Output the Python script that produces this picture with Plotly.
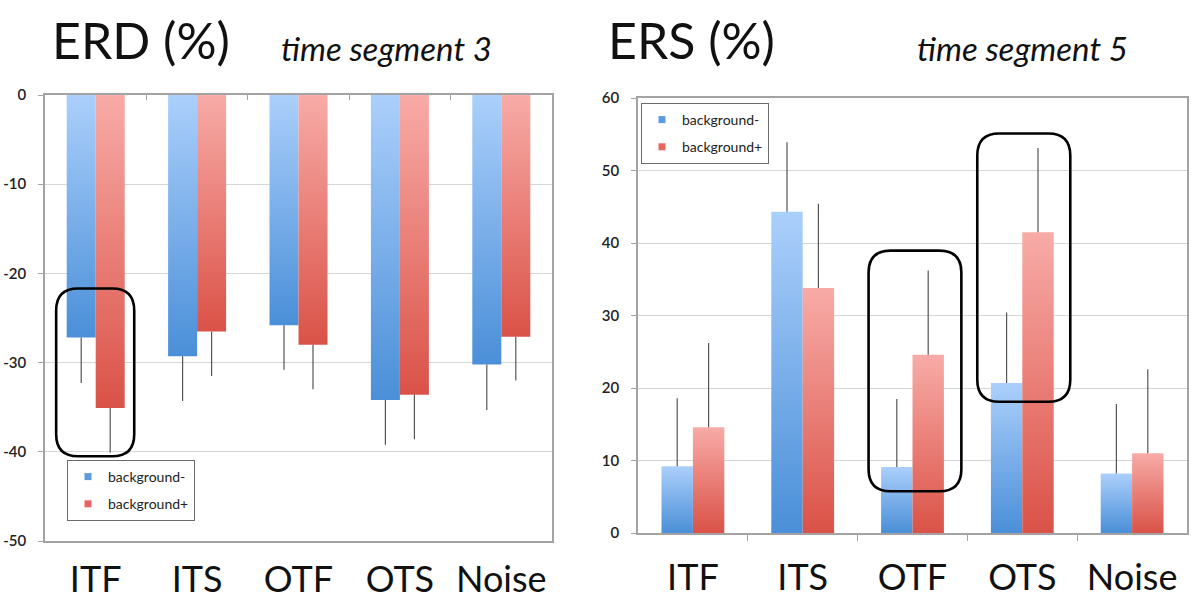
import plotly.graph_objects as go

# ---------------- data ----------------
categories = ["ITF", "ITS", "OTF", "OTS", "Noise"]
series_names = ["background-", "background+"]

erd_bg_minus = [-27.2, -29.3, -25.8, -34.2, -30.2]
erd_bg_plus = [-35.1, -26.5, -28.0, -33.6, -27.1]
erd_err_bg_minus = [5.1, 5.0, 5.0, 5.0, 5.1]
erd_err_bg_plus = [5.0, 5.0, 5.0, 5.0, 4.9]

ers_bg_minus = [9.2, 44.3, 9.1, 20.7, 8.2]
ers_bg_plus = [14.6, 33.8, 24.6, 41.5, 11.0]
ers_err_bg_minus = [9.4, 9.6, 9.4, 9.7, 9.6]
ers_err_bg_plus = [11.6, 11.6, 11.6, 11.6, 11.6]

erd_ticks = [0, -10, -20, -30, -40, -50]
erd_tick_labels = ["0", "-10", "-20", "-30", "-40", "-50"]
ers_ticks = [0, 10, 20, 30, 40, 50, 60]
ers_tick_labels = ["0", "10", "20", "30", "40", "50", "60"]

# ---------------- style ----------------
W, H = 1200, 602
BAR_W = 0.286
BLUE_DARK, BLUE_LIGHT = "#4a8fd8", "#abcffb"
RED_DARK, RED_LIGHT = "#da5247", "#f8aba7"
ERR_COLOR = "#555555"
FONT = "Lato, 'Open Sans', sans-serif"
AX_COLOR = "#a3a3a3"

left_dom_x = [45 / W, 552 / W]
left_dom_y = [1 - 541 / H, 1 - 95 / H]
right_dom_x = [638 / W, 1187 / W]
right_dom_y = [1 - 533 / H, 1 - 98 / H]

fig = go.Figure()


def add_bars(values, errors, offset, dark, light, xa, ya, negative):
    for i, v in enumerate(values):
        x0 = i + offset - BAR_W / 2
        x1 = i + offset + BAR_W / 2
        fig.add_trace(go.Scatter(
            x=[x0, x0, x1, x1, x0], y=[0, v, v, 0, 0],
            mode="lines", line=dict(width=0), fill="toself",
            fillgradient=dict(type="vertical",
                              colorscale=[[0, dark], [1, light]]),
            xaxis=xa, yaxis=ya, showlegend=False, hoverinfo="skip"))
    xs = [i + offset for i in range(len(values))]
    zeros = [0] * len(values)
    fig.add_trace(go.Scatter(
        x=xs, y=values, mode="markers",
        marker=dict(size=1, color="rgba(0,0,0,0)"),
        error_y=dict(type="data", symmetric=False,
                     array=zeros if negative else errors,
                     arrayminus=errors if negative else zeros,
                     color=ERR_COLOR, thickness=1.2, width=0),
        xaxis=xa, yaxis=ya, showlegend=False, hoverinfo="skip"))


add_bars(erd_bg_minus, erd_err_bg_minus, -BAR_W / 2, BLUE_DARK, BLUE_LIGHT, "x", "y", True)
add_bars(erd_bg_plus, erd_err_bg_plus, BAR_W / 2, RED_DARK, RED_LIGHT, "x", "y", True)
add_bars(ers_bg_minus, ers_err_bg_minus, -BAR_W / 2, BLUE_DARK, BLUE_LIGHT, "x2", "y2", False)
add_bars(ers_bg_plus, ers_err_bg_plus, BAR_W / 2, RED_DARK, RED_LIGHT, "x2", "y2", False)

# invisible helper trace so the top tick axis of the left panel is drawn
fig.add_trace(go.Scatter(x=[0], y=[0], mode="markers",
                         marker=dict(size=1, color="rgba(0,0,0,0)"),
                         xaxis="x3", yaxis="y", showlegend=False, hoverinfo="skip"))

# legend entries
for leg, xa, ya in (("legend", "x", "y"), ("legend2", "x2", "y2")):
    for name, col in zip(series_names, ["#5b9be0", "#e8665e"]):
        fig.add_trace(go.Scatter(
            x=[None], y=[None], mode="markers", name=name,
            legendgroup=leg + name,
            marker=dict(symbol="square", size=7, color=col),
            xaxis=xa, yaxis=ya, legend=leg, showlegend=True))


def rrect(x0, x1, y0, y1, rpx, dom_x, dom_y, xr, yr):
    ux = (xr[1] - xr[0]) / ((dom_x[1] - dom_x[0]) * W)
    uy = (yr[1] - yr[0]) / ((dom_y[1] - dom_y[0]) * H)
    rx, ry = rpx * ux, rpx * uy
    return (f"M {x0 + rx},{y1} L {x1 - rx},{y1} Q {x1},{y1} {x1},{y1 - ry} "
            f"L {x1},{y0 + ry} Q {x1},{y0} {x1 - rx},{y0} "
            f"L {x0 + rx},{y0} Q {x0},{y0} {x0},{y0 + ry} "
            f"L {x0},{y1 - ry} Q {x0},{y1} {x0 + rx},{y1} Z")


shapes = [
    dict(type="path", xref="x", yref="y", line=dict(color="black", width=2.6),
         path=rrect(-0.39, 0.38, -40.5, -21.7, 22, left_dom_x, left_dom_y, [-0.5, 4.5], [-50, 0])),
    dict(type="path", xref="x2", yref="y2", line=dict(color="black", width=2.6),
         path=rrect(1.60, 2.445, 5.75, 38.95, 22, right_dom_x, right_dom_y, [-0.5, 4.5], [0, 60])),
    dict(type="path", xref="x2", yref="y2", line=dict(color="black", width=2.6),
         path=rrect(2.59, 3.437, 18.1, 55.1, 22, right_dom_x, right_dom_y, [-0.5, 4.5], [0, 60])),
]

axis_common = dict(showline=True, linecolor=AX_COLOR, linewidth=1.5, mirror=True,
                   zeroline=False, automargin=False)
xcommon = dict(axis_common, range=[-0.5, 4.5], tickvals=list(range(len(categories))),
               ticktext=categories, showgrid=False, ticks="",
               tickfont=dict(family=FONT, size=36, color="#111"))
ycommon = dict(axis_common, showgrid=True, gridcolor="#d6d6d6", gridwidth=1,
               ticks="outside", ticklen=5, tickcolor=AX_COLOR, ticklabelstandoff=9,
               tickfont=dict(family=FONT, size=15, color="#222", weight=600))
legend_common = dict(xanchor="left", yanchor="top", bgcolor="white",
                     bordercolor="#6b6b6b", borderwidth=1,
                     font=dict(family=FONT, size=14, color="#222"),
                     itemwidth=30, tracegroupgap=6)

fig.update_layout(
    width=W, height=H, margin=dict(l=0, r=0, t=0, b=0, autoexpand=False),
    paper_bgcolor="white", plot_bgcolor="white",
    xaxis=dict(xcommon, domain=left_dom_x, anchor="y", ticklabelstandoff=6),
    xaxis3=dict(range=[-0.5, 4.5], overlaying="x", side="top", anchor="y",
                showline=False, showgrid=False, zeroline=False,
                showticklabels=False, tickvals=[0.5, 1.5, 2.5, 3.5],
                ticks="inside", ticklen=5, tickcolor=AX_COLOR, automargin=False),
    yaxis=dict(ycommon, domain=left_dom_y, anchor="x", range=[-50, 0],
               tickvals=erd_ticks, ticktext=erd_tick_labels),
    xaxis2=dict(xcommon, domain=right_dom_x, anchor="y2", ticklabelstandoff=12,
                minor=dict(tickvals=[0.5, 1.5, 2.5, 3.5], ticks="outside",
                           ticklen=6, tickcolor=AX_COLOR)),
    yaxis2=dict(ycommon, domain=right_dom_y, anchor="x2", range=[0, 60],
                tickvals=ers_ticks, ticktext=ers_tick_labels),
    legend=dict(legend_common, x=67 / W, y=1 - 460 / H),
    legend2=dict(legend_common, x=641 / W, y=1 - 103 / H),
    shapes=shapes,
    annotations=[
        dict(text="ERD (%)", x=50 / W, y=1 - 40 / H, xref="paper", yref="paper",
             xanchor="left", yanchor="middle", showarrow=False,
             font=dict(family=FONT, size=50, color="#111")),
        dict(text="<i>time segment 3</i>", x=386 / W, y=1 - 48 / H, xref="paper",
             yref="paper", xanchor="center", yanchor="middle", showarrow=False,
             font=dict(family=FONT, size=33, color="#111")),
        dict(text="ERS (%)", x=606 / W, y=1 - 40 / H, xref="paper", yref="paper",
             xanchor="left", yanchor="middle", showarrow=False,
             font=dict(family=FONT, size=50, color="#111")),
        dict(text="<i>time segment 5</i>", x=1022 / W, y=1 - 48 / H, xref="paper",
             yref="paper", xanchor="center", yanchor="middle", showarrow=False,
             font=dict(family=FONT, size=33, color="#111")),
    ],
)

fig.write_html("out.html", config={"displayModeBar": False},
               post_script="document.body.style.margin='0';document.body.style.overflow='hidden';")
